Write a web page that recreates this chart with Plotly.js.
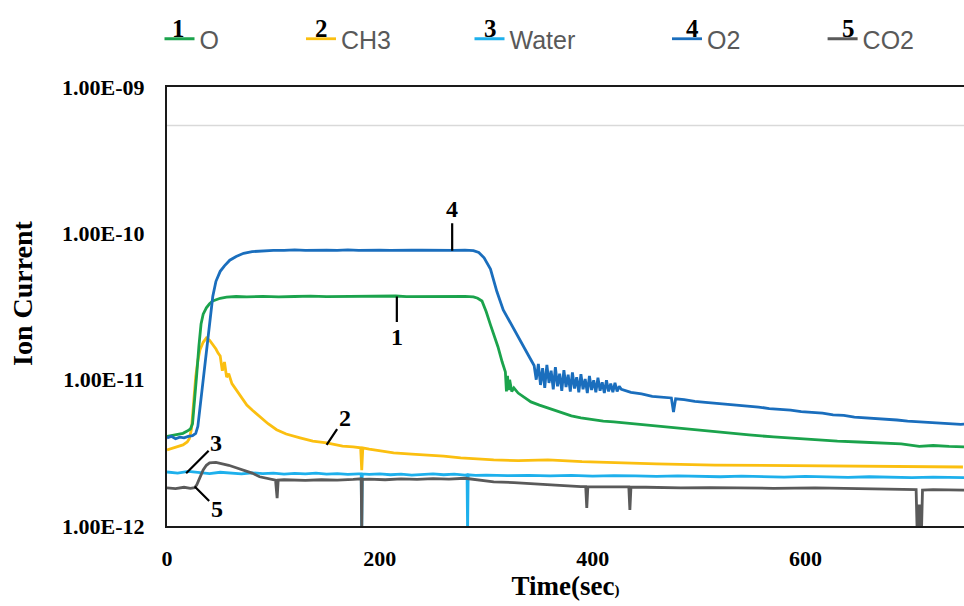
<!DOCTYPE html>
<html>
<head>
<meta charset="utf-8">
<script src="https://cdn.plot.ly/plotly-3.0.1.min.js"></script>
<style>html,body{margin:0;padding:0;background:#fff;}#chart{width:964px;height:606px;}</style>
</head>
<body>
<div id="chart"></div>
<script>
// ---- Series names ----
const seriesNames = ["O", "CH3", "Water", "O2", "CO2"];
const seriesNums = ["1", "2", "3", "4", "5"];

// ---- Data (time in s, ion current in A) ----
const tO = [0,5,10,15,19,22,24,26,28,30,32,34,37,40,43,50,56,65,75,90,105,120,135,150,165,180,195,210,215,225,240,255,270,280,288,292,296,300,304,307,311,315,318,319,320,321,322,324,326,330,335,342,350,358,370,380,389,400,410,420,440,460,483,500,520,547,570,590,609,630,650,672,690,707,720,735,752];
const vO = [4.1e-12,4.15e-12,4.25e-12,4.3e-12,4.45e-12,4.6e-12,5.0e-12,7.0e-12,11e-12,17e-12,24e-12,28e-12,31e-12,33e-12,34.5e-12,36e-12,36.6e-12,37e-12,36.8e-12,37.1e-12,36.8e-12,37e-12,37.2e-12,36.9e-12,37e-12,36.8e-12,37.1e-12,36.9e-12,37.3e-12,36.9e-12,37e-12,37.2e-12,36.9e-12,37.1e-12,36.8e-12,36e-12,34.5e-12,29.1e-12,23.7e-12,20.6e-12,16.8e-12,13.2e-12,11.3e-12,8.3e-12,10.6e-12,8.5e-12,9.97e-12,8.3e-12,8.79e-12,8.1e-12,7.6e-12,7.05e-12,6.7e-12,6.41e-12,5.93e-12,5.65e-12,5.48e-12,5.31e-12,5.2e-12,5.15e-12,4.98e-12,4.83e-12,4.68e-12,4.54e-12,4.39e-12,4.19e-12,4.06e-12,3.97e-12,3.87e-12,3.8e-12,3.75e-12,3.7e-12,3.64e-12,3.5e-12,3.55e-12,3.5e-12,3.47e-12];

const tCH3 = [0,5,10,15,19,21,23,25,27,29,31,34,37,40,43,46,48,50,52,54,56,58,61,65,70,75,80,87,95,103,112,125,137,150,165,175,182,183,184,190,200,213,230,245,260,276,290,307,330,358,390,420,460,515,560,609,660,700,748];
const vCH3 = [3.31e-12,3.40e-12,3.47e-12,3.58e-12,3.75e-12,3.95e-12,4.6e-12,7.0e-12,10.5e-12,13.5e-12,16e-12,18e-12,19.3e-12,18.6e-12,17.5e-12,16.2e-12,15.2e-12,14.5e-12,11.5e-12,13.2e-12,10.4e-12,11.0e-12,9.4e-12,8.5e-12,7.5e-12,6.7e-12,6.2e-12,5.6e-12,5.0e-12,4.55e-12,4.25e-12,4.0e-12,3.8e-12,3.7e-12,3.52e-12,3.47e-12,3.42e-12,2.41e-12,3.42e-12,3.35e-12,3.25e-12,3.16e-12,3.10e-12,3.06e-12,3.0e-12,2.92e-12,2.88e-12,2.83e-12,2.80e-12,2.83e-12,2.75e-12,2.70e-12,2.66e-12,2.61e-12,2.59e-12,2.57e-12,2.55e-12,2.54e-12,2.53e-12];

const tWater = [0,10,20,30,40,50,60,70,80,90,100,110,120,130,140,150,160,170,180,182.5,183,183.5,190,200,210,220,230,240,250,260,270,280,282,282.5,283,290,300,320,340,360,380,400,420,440,460,480,500,520,540,560,580,600,620,640,660,680,700,720,740,752];
const vWater = [2.34e-12,2.30e-12,2.36e-12,2.32e-12,2.28e-12,2.33e-12,2.30e-12,2.27e-12,2.31e-12,2.28e-12,2.30e-12,2.26e-12,2.29e-12,2.27e-12,2.30e-12,2.26e-12,2.28e-12,2.25e-12,2.27e-12,2.27e-12,0.9e-12,2.27e-12,2.25e-12,2.27e-12,2.24e-12,2.26e-12,2.23e-12,2.25e-12,2.27e-12,2.24e-12,2.26e-12,2.23e-12,2.24e-12,0.9e-12,2.24e-12,2.22e-12,2.23e-12,2.21e-12,2.22e-12,2.20e-12,2.22e-12,2.19e-12,2.21e-12,2.20e-12,2.18e-12,2.20e-12,2.19e-12,2.17e-12,2.19e-12,2.18e-12,2.16e-12,2.18e-12,2.17e-12,2.15e-12,2.17e-12,2.16e-12,2.14e-12,2.16e-12,2.15e-12,2.14e-12];

const tO2 = [0,4,8,12,16,20,24,27,29,31,33,35,37,40,43,46,50,54,59,65,72,80,90,100,110,120,130,140,150,160,170,180,190,200,210,220,230,240,250,260,270,280,288,293,298,304,310,316,322,328,334,340,345,347,349,351,353,355,357,359,361,363,365,367,369,371,373,375,377,379,381,383,385,387,389,391,393,395,397,399,401,403,405,407,409,411,413,415,417,419,421,423,425,427,436,446,456,466,474,476,478,486,496,506,516,526,536,546,556,566,576,586,596,606,616,626,636,646,656,666,676,686,696,706,716,726,736,746,752];
const vO2 = [4.0e-12,4.1e-12,3.95e-12,4.05e-12,4.0e-12,4.1e-12,4.15e-12,4.3e-12,4.8e-12,6.5e-12,8.5e-12,11.5e-12,15e-12,25e-12,37e-12,47e-12,55e-12,60e-12,65.5e-12,69.5e-12,73e-12,75e-12,76e-12,76.5e-12,76.5e-12,77e-12,76.5e-12,77e-12,76.8e-12,76.5e-12,77e-12,76.5e-12,77e-12,76.7e-12,76.5e-12,77e-12,76.6e-12,76.8e-12,76.5e-12,76.8e-12,76.5e-12,76.7e-12,76.2e-12,74e-12,68e-12,57e-12,40e-12,30e-12,25e-12,20.5e-12,17e-12,14.5e-12,
  12.5e-12,10.0e-12,12.8e-12,9.2e-12,12.0e-12,8.8e-12,12.6e-12,9.5e-12,11.5e-12,8.6e-12,12.2e-12,9.0e-12,11.0e-12,8.4e-12,11.6e-12,8.9e-12,10.8e-12,8.3e-12,11.2e-12,8.7e-12,10.4e-12,8.2e-12,10.9e-12,8.6e-12,10.1e-12,8.1e-12,10.6e-12,8.5e-12,9.9e-12,8.2e-12,10.3e-12,8.4e-12,9.6e-12,8.1e-12,9.9e-12,8.3e-12,9.4e-12,8.2e-12,9.5e-12,8.3e-12,9.0e-12,8.6e-12,
  8.2e-12,8.0e-12,7.7e-12,7.6e-12,7.5e-12,6.0e-12,7.4e-12,7.3e-12,7.1e-12,7.0e-12,6.9e-12,6.8e-12,6.75e-12,6.6e-12,6.5e-12,6.35e-12,6.3e-12,6.2e-12,6.05e-12,6.0e-12,5.9e-12,5.75e-12,5.7e-12,5.55e-12,5.5e-12,5.4e-12,5.35e-12,5.3e-12,5.2e-12,5.15e-12,5.1e-12,5.05e-12,5.0e-12,4.95e-12,5.0e-12];

const tCO2 = [0,8,16,22,26,28,31,34,37,40,46,52,58,65,71,80,87,95,102,103.5,104.5,110,118,130,145,160,175,182.5,183,183.5,190,205,220,235,250,265,280,294,307,326,345,365,389,393.5,394.5,395.5,410,425,434,435,436,450,470,483,510,540,570,609,640,670,700,704,705,706,707,708,709,710,720,735,752];
const vCO2 = [1.82e-12,1.80e-12,1.84e-12,1.81e-12,1.83e-12,1.91e-12,2.15e-12,2.42e-12,2.60e-12,2.70e-12,2.72e-12,2.66e-12,2.60e-12,2.50e-12,2.42e-12,2.30e-12,2.17e-12,2.10e-12,2.06e-12,1.55e-12,2.06e-12,2.07e-12,2.06e-12,2.05e-12,2.07e-12,2.06e-12,2.08e-12,2.10e-12,0.9e-12,2.08e-12,2.09e-12,2.07e-12,2.10e-12,2.08e-12,2.11e-12,2.09e-12,2.12e-12,2.06e-12,2.00e-12,1.98e-12,1.95e-12,1.90e-12,1.86e-12,1.86e-12,1.33e-12,1.86e-12,1.85e-12,1.84e-12,1.85e-12,1.29e-12,1.84e-12,1.84e-12,1.83e-12,1.82e-12,1.83e-12,1.82e-12,1.81e-12,1.82e-12,1.80e-12,1.79e-12,1.78e-12,1.77e-12,0.9e-12,1.4e-12,0.9e-12,1.4e-12,0.9e-12,1.76e-12,1.77e-12,1.76e-12,1.76e-12];

// faint horizontal reference line near the top
const tRef = [0, 752];
const vRef = [5.45e-10, 5.45e-10];

// axis ticks
const xTicks = [0, 200, 400, 600];
const yTicks = [1e-12, 1e-11, 1e-10, 1e-9];
const yTickText = ["1.00E-12", "1.00E-11", "1.00E-10", "1.00E-09"];

const colors = {O: "#1ba34c", CH3: "#fbbf10", Water: "#1eb0ec", O2: "#1a6ebd", CO2: "#5a5a5a"};

const serif = "Liberation Serif, Times New Roman, serif";
const legFont = {family: "Liberation Sans, Arial, sans-serif", size: 25, color: "#595959"};

function tr(x, y, name, legendId) {
  return {x: x, y: y, name: name, type: "scatter", mode: "lines",
          line: {color: colors[name], width: 2.8}, legend: legendId, showlegend: true};
}

const data = [
  {x: tRef, y: vRef, type: "scatter", mode: "lines", line: {color: "#d9d9d9", width: 1.6}, showlegend: false, hoverinfo: "skip"},
  tr(tCH3, vCH3, "CH3", "legend2"),
  tr(tWater, vWater, "Water", "legend3"),
  tr(tCO2, vCO2, "CO2", "legend5"),
  tr(tO, vO, "O", "legend"),
  tr(tO2, vO2, "O2", "legend4")
];

const PW = 964 - 167, PH = 526 - 87;
function px2paperX(px) { return (px - 167) / PW; }
function px2paperY(py) { return (526 - py) / PH; }

const legendStarts = [159.5, 301, 469.5, 667, 822.6];
function leg(i) {
  return {x: px2paperX(legendStarts[i]), y: px2paperY(39), xanchor: "left", yanchor: "middle",
          orientation: "h", bgcolor: "rgba(0,0,0,0)", borderwidth: 0, font: legFont, itemwidth: 30};
}

const numPos = [178.5, 321, 490, 692.6, 848];
const annotations = [];
numPos.forEach(function (px, i) {
  annotations.push({xref: "paper", yref: "paper", x: px2paperX(px), y: px2paperY(28),
    xanchor: "center", yanchor: "middle",
    text: seriesNums[i], showarrow: false, font: {family: serif, size: 25, color: "#000", weight: "bold"}});
});
// y-axis title placed like the original
annotations.push({xref: "paper", yref: "paper", x: px2paperX(22), y: px2paperY(293), xanchor: "center", yanchor: "middle",
  text: "Ion Current", textangle: -90, showarrow: false, font: {family: serif, size: 28, color: "#000", weight: "bold"}});

// labels with leader lines on curves: [time, log10 value, ax, ay, label]
const callouts = [
  [268, Math.log10(7.6e-11), 0, -42, "4"],
  [216, Math.log10(3.7e-11), 0, 40, "1"],
  [150, Math.log10(3.58e-12), 18, -27, "2"],
  [18, Math.log10(2.29e-12), 30, -30, "3"],
  [26, Math.log10(1.86e-12), 22, 22, "5"]
];
callouts.forEach(function (c) {
  annotations.push({xref: "x", yref: "y", x: c[0], y: c[1], ax: c[2], ay: c[3], text: c[4],
    showarrow: true, arrowhead: 0, arrowwidth: 2.2, arrowcolor: "#000", standoff: 0, startstandoff: 0,
    font: {family: serif, size: 24, color: "#000", weight: "bold"}});
});

const layout = {
  width: 964, height: 606,
  margin: {l: 167, r: 0, t: 87, b: 80, pad: 0},
  paper_bgcolor: "#fff", plot_bgcolor: "#fff",
  xaxis: {range: [0, 749], tickvals: xTicks, ticktext: xTicks.map(String), showgrid: false, zeroline: false,
          showline: true, linecolor: "#1a1a1a", linewidth: 2, mirror: true, ticks: "",
          ticklabelstandoff: 12,
          tickfont: {family: serif, size: 22, color: "#000", weight: "bold"},
          title: {text: 'Time(sec<span style="font-size:15px">)</span>', standoff: 6,
                  font: {family: serif, size: 27, color: "#000", weight: "bold"}}},
  yaxis: {type: "log", range: [-12, -9], tickvals: yTicks, ticktext: yTickText, showgrid: false, zeroline: false,
          showline: true, linecolor: "#1a1a1a", linewidth: 2, mirror: false, ticks: "",
          ticklabelstandoff: 16,
          tickfont: {family: serif, size: 22, color: "#000", weight: "bold"}},
  legend: leg(0), legend2: leg(1), legend3: leg(2), legend4: leg(3), legend5: leg(4),
  annotations: annotations,
  showlegend: true
};

Plotly.newPlot("chart", data, layout, {displayModeBar: false, staticPlot: true});
</script>
</body>
</html>
